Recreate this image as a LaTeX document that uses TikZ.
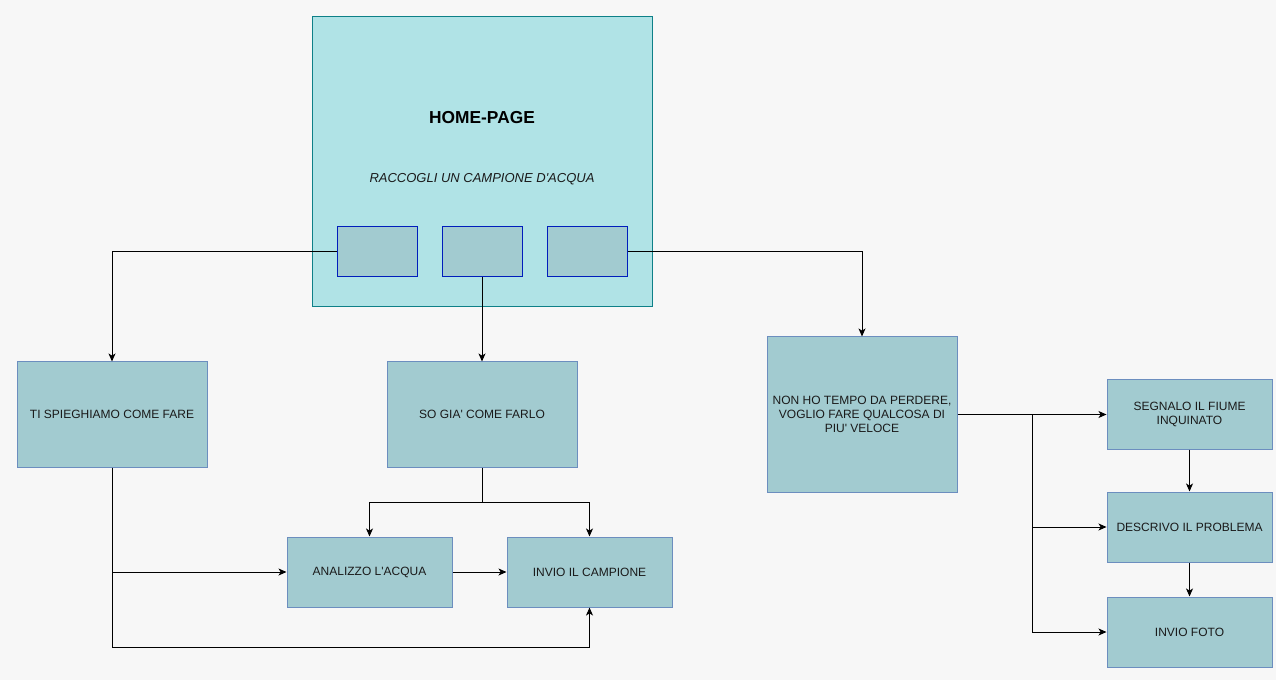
\documentclass[tikz,border=0pt]{standalone}
\usepackage{fontspec}
\setmainfont{Liberation Sans}
\usetikzlibrary{arrows.meta}
\definecolor{bgcol}{HTML}{F7F7F7}
\definecolor{homefill}{HTML}{B0E3E6}
\definecolor{homeline}{HTML}{0E8088}
\definecolor{boxfill}{HTML}{A2CBD0}
\definecolor{boxline}{HTML}{6C8EBF}
\definecolor{btnline}{HTML}{001DBC}
\definecolor{txt}{HTML}{1A1A1A}
% straight apostrophe
\newcommand{\ap}{\textquotesingle}
\tikzset{
  box/.style={draw=boxline, fill=boxfill, line width=0.75pt, inner sep=0pt,
    align=center, text=txt, font=\fontsize{9}{10.5}\selectfont},
  btn/.style={draw=btnline, fill=boxfill, line width=0.75pt, inner sep=0pt,
    minimum width=60pt, minimum height=37.5pt},
  link/.style={draw=black, line width=0.75pt,
    -{Stealth[length=6pt,width=5.2pt,inset=1.6pt]}},
  plain/.style={draw=black, line width=0.75pt}
}
\begin{document}
\begin{tikzpicture}[x=0.75pt, y=-0.75pt]
  % canvas
  \fill[bgcol] (0,0) rectangle (1276,680);
  \useasboundingbox (0,0) rectangle (1276,680);

  % home page frame with its three buttons
  \node[draw=homeline, fill=homefill, line width=0.75pt,
        minimum width=255pt, minimum height=217.5pt, inner sep=0pt] (home) at (482,162) {};
  \node[font=\fontsize{13}{15}\selectfont\bfseries, text=black] (title) at (482,118) {HOME-PAGE};
  \node[font=\fontsize{9.75}{11}\selectfont\itshape, text=txt] (sub) at (482,179.5) {RACCOGLI UN CAMPIONE D\ap ACQUA};
  \node[btn] (b1) at (377,252) {};
  \node[btn] (b2) at (482,252) {};
  \node[btn] (b3) at (587,252) {};

  % second level
  \node[box, minimum width=142.5pt, minimum height=78.75pt] (ti) at (112,414.5) {\raisebox{-1pt}{TI SPIEGHIAMO COME FARE}};
  \node[box, minimum width=142.5pt, minimum height=78.75pt] (so) at (482,414.5) {\raisebox{-1pt}{SO GIA\ap\ COME FARLO}};
  \node[box, minimum width=142.5pt, minimum height=116.25pt] (non) at (862,414.5)
       {NON HO TEMPO DA PERDERE,\\VOGLIO FARE QUALCOSA DI\\PIU\ap\ VELOCE};

  % lower steps
  \node[box, minimum width=123.75pt, minimum height=52.5pt] (ana) at (369.5,572) {\raisebox{-1pt}{ANALIZZO L\ap ACQUA}};
  \node[box, minimum width=123.75pt, minimum height=52.5pt] (camp) at (589.5,572) {\raisebox{-1pt}{INVIO IL CAMPIONE}};

  % right column
  \node[box, minimum width=123.75pt, minimum height=52.5pt] (seg) at (1189.5,414) {SEGNALO IL FIUME\\INQUINATO};
  \node[box, minimum width=123.75pt, minimum height=52.5pt] (des) at (1189.5,527) {\raisebox{-1pt}{DESCRIVO IL PROBLEMA}};
  \node[box, minimum width=123.75pt, minimum height=52.5pt] (foto) at (1189.5,632) {\raisebox{-1pt}{INVIO FOTO}};

  % turning points
  \coordinate (lowturn) at (112,647);
  \coordinate (sosplit) at (482,502);
  \coordinate (rsplit) at (1032,414.5);

  % connectors from the home page
  \draw[link] (b1.west) -| (ti.north);
  \draw[link] (b2.south) -- (so.north);
  \draw[link] (b3.east) -| (non.north);

  % left branch
  \draw[link] (ti.south) |- (ana.west);
  \draw[link] (ti.south) -- (lowturn) -| (camp.south);

  % middle branch
  \draw[plain] (so.south) -- (sosplit);
  \draw[link] (sosplit) -| (ana.north);
  \draw[link] (sosplit) -| (camp.north);
  \draw[link] (ana.east) -- (camp.west);

  % right branch
  \draw[link] (non.east) -- (seg.west |- non.east);
  \draw[link] (rsplit) |- (des.west);
  \draw[link] (rsplit) |- (foto.west);
  \draw[link] (seg.south) -- (des.north);
  \draw[link] (des.south) -- (foto.north);
\end{tikzpicture}
\end{document}
